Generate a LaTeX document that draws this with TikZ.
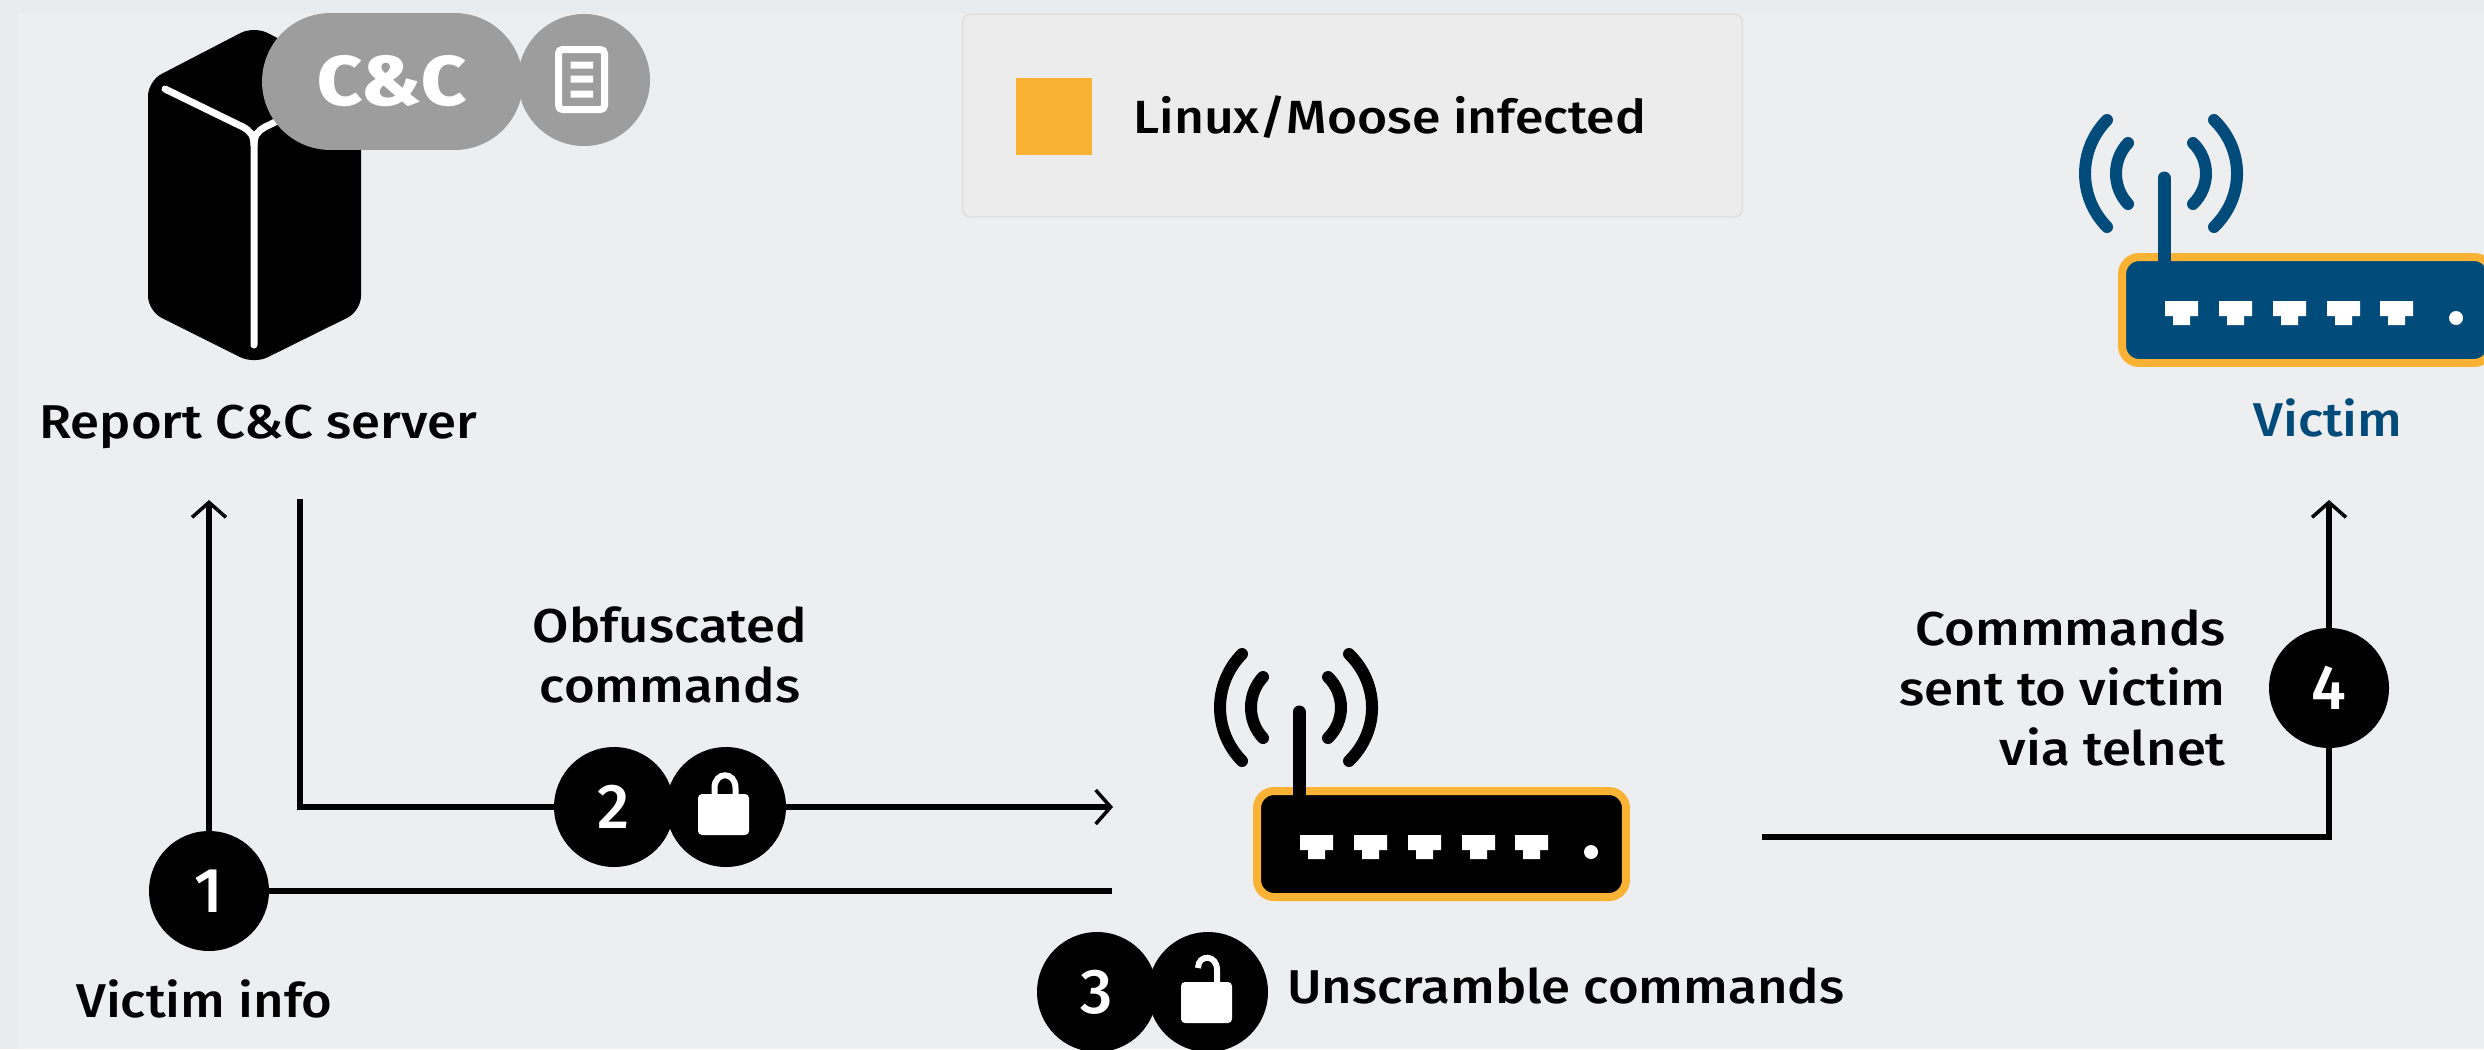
\documentclass[tikz,border=0pt]{standalone}
\usepackage{fontspec}
\setmainfont{Fira Sans Medium}[FakeStretch=1.11]
\newfontfamily\digitfont{Fira Sans Medium}
\usetikzlibrary{arrows.meta,shapes.misc}
\definecolor{panelbg}{HTML}{ECEEF0}
\definecolor{outerbg}{HTML}{E9ECEF}
\definecolor{legendbg}{HTML}{ECECEC}
\definecolor{legendline}{HTML}{DDDFE0}
\definecolor{infected}{HTML}{F9B233}
\definecolor{victimblue}{HTML}{004B7A}
\definecolor{badgegray}{HTML}{9E9D9E}
\tikzset{
  lbl/.style={inner sep=0pt,font=\fontsize{27}{34}\selectfont,text=black},
  badge/.style={circle,fill=black,text=white,inner sep=0pt,minimum size=2.4cm,font=\digitfont\fontsize{36}{40}\selectfont},
  conn/.style={line width=0.12cm,draw=black},
  arrowconn/.style={conn,-{Straight Barb[length=0.3cm,width=0.68cm,line width=0.07cm]}},
  routerbody/.style={rectangle,rounded corners=0.34cm,draw=infected,line width=0.16cm,inner sep=0pt,minimum width=7.38cm,minimum height=2.12cm},
}
\newcommand{\routericon}[4]{%
\begin{scope}[shift={(#1,#2)}]
  \begin{scope}[draw=#3,line width=0.24cm,line cap=round]
    \draw (2107,120) .. controls (2077.7,150) and (2077.7,197) .. (2107,227);
    \draw (2128,143) .. controls (2112,160) and (2112,187) .. (2128,204);
    \draw (2214,120) .. controls (2244.7,150) and (2244.7,197) .. (2214,227);
    \draw (2193,143) .. controls (2210.3,160) and (2210.3,187) .. (2193,204);
  \end{scope}
  \node[routerbody,fill=#3] (#4) at (2306.5,310) {};
  \draw[#3,line width=0.26cm,line cap=round] (2164,178) -- (2164,262);
  \foreach \p in {2165,2219,2273,2327,2380}{
    \fill[white] (\p,301) -- ++(33,0) -- ++(0,15) -- ++(-8,0) -- ++(0,9) -- ++(-17,0) -- ++(0,-9) -- ++(-8,0) -- cycle;
  }
  \fill[white] (2456,318) circle (0.14cm);
\end{scope}}
\begin{document}
\begin{tikzpicture}[x=0.02cm,y=-0.02cm]
\useasboundingbox (0,0) rectangle (2484,1049);
\clip (0,0) rectangle (2484,1049);
\fill[outerbg] (0,0) rectangle (2484,1049);
\fill[panelbg] (18,13) rectangle (2484,1049);

% legend
\node[rectangle,rounded corners=0.16cm,draw=legendline,fill=legendbg,line width=0.03cm,inner sep=0pt,minimum width=15.6cm,minimum height=4.06cm] (legend) at (1352.5,115.5) {};
\node[rectangle,fill=infected,inner sep=0pt,minimum width=1.53cm,minimum height=1.54cm] (swatch) at (1054,116.5) {};
\node[lbl,anchor=base west,font=\fontsize{26.5}{34}\selectfont] (legendtext) at (1133,133) {Linux/Moose infected};

% server
\fill[black,rounded corners=0.3cm] (254,26) -- (148,81) -- (148,311) -- (254,364) -- (361,311) -- (361,81) -- cycle;
\draw[white,line width=0.14cm,line cap=round] (165,89) -- (243,127) .. controls (250,131) and (254,135) .. (254,145) -- (254,345);
\draw[white,line width=0.14cm,line cap=round] (254,145) .. controls (254,135) and (258,131) .. (265,127) -- (345,88);
\node[rounded rectangle,fill=badgegray,inner sep=0pt,minimum width=5.22cm,minimum height=2.74cm,text=white,font=\fontsize{40}{44}\bfseries\selectfont] (cnc) at (392.5,81.5) {C\&C};
\node[circle,fill=badgegray,inner sep=0pt,minimum size=2.64cm] (doc) at (584,80) {};
\draw[white,line width=0.14cm,rounded corners=0.08cm] (558.5,49.5) rectangle (604.5,109.5);
\fill[white] (570.5,61.5) rectangle (593,68.5) (570.5,75.5) rectangle (593,82.5) (570.5,90.5) rectangle (593,97.5);
\node[lbl,anchor=base west] (report) at (39,438) {Report C\&C server};

% routers
\routericon{0}{0}{victimblue}{victim}
\routericon{-865}{534}{black}{router}
\node[lbl,anchor=base,text=victimblue] (victimlabel) at (2328,436) {Victim};

% badges
\node[badge] (c1) at (209,891) {1};
\node[badge] (c2) at (614,807) {2};
\node[badge] (l2) at (726,807) {};
\node[badge] (c3) at (1097,992) {3};
\node[badge] (l3) at (1208,992) {};
\node[badge] (c4) at (2329,688) {4};

% locks
\fill[white,rounded corners=0.08cm] (698,794) rectangle (749,835);
\draw[white,line width=0.12cm] (714.5,796) -- (714.5,788) .. controls (714.5,771) and (735.5,771) .. (735.5,788) -- (735.5,796);
\fill[white,rounded corners=0.08cm] (1181,982) rectangle (1232,1023);
\draw[white,line width=0.12cm] (1198,968) .. controls (1198,954) and (1217,954) .. (1217,970) -- (1217,984);

% connectors
\coordinate (tip1) at (209,500);
\coordinate (end1) at (1112,891);
\coordinate (start2) at (300,499);
\coordinate (tip2) at (1113,807);
\coordinate (start4) at (1762,837);
\coordinate (tip4) at (2329,500);
\draw[arrowconn] (c1.north) -- (tip1);
\draw[conn] (c1.east) -- (end1);
\draw[conn] (start2) |- (c2.west);
\draw[arrowconn] (l2.east) -- (tip2);
\draw[conn] (start4) -| (c4.south);
\draw[arrowconn] (c4.north) -- (tip4);

% labels
\node[lbl,anchor=base] (obf1) at (670,642) {Obfuscated};
\node[lbl,anchor=base] (obf2) at (670,702) {commands};
\node[lbl,anchor=base east] (cmd1) at (2226,645) {Commmands};
\node[lbl,anchor=base east] (cmd2) at (2226,705) {sent to victim};
\node[lbl,anchor=base east] (cmd3) at (2226,765) {via telnet};
\node[lbl,anchor=base west] (info) at (76,1017) {Victim info};
\node[lbl,anchor=base west] (unscr) at (1287,1003) {Unscramble commands};
\end{tikzpicture}
\end{document}
